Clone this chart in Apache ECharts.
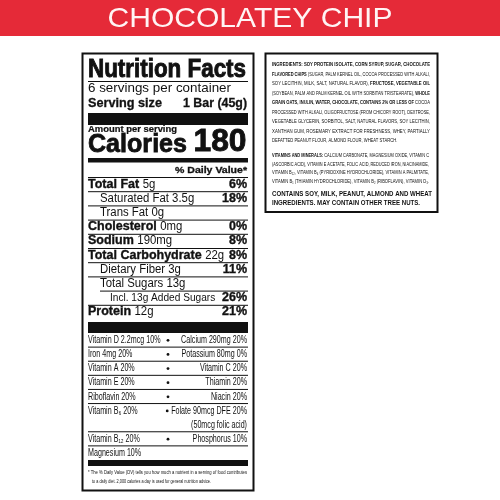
<!DOCTYPE html>
<html><head><meta charset="utf-8">
<script src="https://cdn.jsdelivr.net/npm/echarts@6/dist/echarts.min.js"></script>
<style>html,body{margin:0;padding:0;background:#fff}#c{width:500px;height:500px}</style>
</head><body><div id="c"></div>
<script>
// ---------------- DATA ----------------
const bannerTitle = 'CHOCOLATEY CHIP';
const labelTitle = 'Nutrition Facts';
const servingsText = '6 servings per container';
const servingSizeLabel = 'Serving size';
const servingSizeValue = '1 Bar (45g)';
const amountPerServing = 'Amount per serving';
const caloriesLabel = 'Calories';
const caloriesValue = 180;
const dvHeader = '% Daily Value*';
const nutrientNames = ['Total Fat','Saturated Fat','Trans Fat','Cholesterol','Sodium','Total Carbohydrate','Dietary Fiber','Total Sugars','Incl. 13g Added Sugars','Protein'];
const nutrientAmounts = ['5g','3.5g','0g','0mg','190mg','22g','3g','13g','','12g'];
const nutrientDV = ['6%','18%','','0%','8%','8%','11%','','26%','21%'];
const vitaminLeft = ['Vitamin D 2.2mcg 10%','Iron 4mg 20%','Vitamin A 20%','Vitamin E 20%','Riboflavin 20%','Vitamin B\u2086 20%','','Vitamin B\u2081\u2082 20%','Magnesium 10%'];
const vitaminRight = ['Calcium 290mg 20%','Potassium 80mg 0%','Vitamin C 20%','Thiamin 20%','Niacin 20%','Folate 90mcg DFE 20%','(50mcg folic acid)','Phosphorus 10%',''];
const footnoteLines = ['* The % Daily Value (DV) tells you how much a nutrient in a serving of food contributes','to a daily diet. 2,000 calories a day is used for general nutrition advice.'];
const ingredientLines = [
  'INGREDIENTS: SOY PROTEIN ISOLATE, CORN SYRUP, SUGAR, CHOCOLATE',
  'FLAVORED CHIPS (SUGAR, PALM KERNEL OIL, COCOA PROCESSED WITH ALKALI,',
  'SOY LECITHIN, MILK, SALT, NATURAL FLAVOR), FRUCTOSE, VEGETABLE OIL',
  '(SOYBEAN, PALM AND PALM KERNEL OIL WITH SORBITAN TRISTEARATE), WHOLE',
  'GRAIN OATS, INULIN, WATER, CHOCOLATE, CONTAINS 2% OR LESS OF COCOA',
  'PROCESSED WITH ALKALI, OLIGOFRUCTOSE (FROM CHICORY ROOT), DEXTROSE,',
  'VEGETABLE GLYCERIN, SORBITOL, SALT, NATURAL FLAVORS, SOY LECITHIN,',
  'XANTHAN GUM, ROSEMARY EXTRACT FOR FRESHNESS, WHEY, PARTIALLY',
  'DEFATTED PEANUT FLOUR, ALMOND FLOUR, WHEAT STARCH.'
];
const vitaminMineralLines = [
  'VITAMINS AND MINERALS: CALCIUM CARBONATE, MAGNESIUM OXIDE, VITAMIN C',
  '(ASCORBIC ACID), VITAMIN E ACETATE, FOLIC ACID, REDUCED IRON, NIACINAMIDE,',
  'VITAMIN B\u2081\u2082, VITAMIN B\u2086 (PYRIDOXINE HYDROCHLORIDE), VITAMIN A PALMITATE,',
  'VITAMIN B\u2081 (THIAMIN HYDROCHLORIDE), VITAMIN B\u2082 (RIBOFLAVIN), VITAMIN D\u2083.'
];
const allergenLines = ['CONTAINS SOY, MILK, PEANUT, ALMOND AND WHEAT','INGREDIENTS. MAY CONTAIN OTHER TREE NUTS.'];

// ---------------- STYLE ----------------
const boldPhrases = ['INGREDIENTS: SOY PROTEIN ISOLATE, CORN SYRUP, SUGAR, CHOCOLATE','FLAVORED CHIPS','FRUCTOSE, VEGETABLE OIL','WHOLE','GRAIN OATS, INULIN, WATER, CHOCOLATE, CONTAINS 2% OR LESS OF','VITAMINS AND MINERALS:'];
const subLevel = {'Saturated Fat':1,'Trans Fat':1,'Dietary Fiber':1,'Total Sugars':1,'Incl. 13g Added Sugars':2};
const FAMILY = '"Liberation Sans", Arial, Helvetica, sans-serif';
const INK = '#111';

const mctx = document.createElement('canvas').getContext('2d');
function fontOf(size, bold){ return (bold ? 'bold ' : 'normal ') + size + 'px ' + FAMILY; }
function measure(t, size, bold){ mctx.font = fontOf(size, bold); return mctx.measureText(t).width; }
function textEl(t, x, capY, size, o){
  o = o || {};
  const bold = !!o.bold, align = o.align || 'left';
  let sx = o.scaleX || 1;
  if (o.width) sx = o.width / measure(t, size, bold);
  const style = {text:t, font:fontOf(size, bold), fill:o.fill || INK, align:align, textAlign:align, verticalAlign:'middle', textVerticalAlign:'middle'};
  if (o.heavy) { style.stroke = o.fill || INK; style.lineWidth = o.heavy; }
  return {type:'text', x:x, y:capY + 0.03*size, scaleX:sx, scaleY:1, silent:true, style:style};
}
function splitBold(line){
  const segs = []; let rest = line;
  while (rest.length){
    let best = -1, bp = null;
    boldPhrases.forEach(p => { const k = rest.indexOf(p); if (k >= 0 && (best < 0 || k < best)) { best = k; bp = p; } });
    if (best < 0) { segs.push({t:rest, b:false}); break; }
    if (best > 0) segs.push({t:rest.slice(0, best), b:false});
    segs.push({t:bp, b:true}); rest = rest.slice(best + bp.length);
  }
  return segs;
}
function segLine(segs, x, capY, size, width, sxOverride){
  const ws = segs.map(s => measure(s.t, size, s.b));
  const total = ws.reduce((a, b) => a + b, 0);
  const sx = sxOverride || width / total;
  let cx = x; const els = [];
  segs.forEach((s, i) => { els.push(textEl(s.t, cx, capY, size, {bold:s.b, scaleX:sx})); cx += ws[i]*sx; });
  return {els, sx};
}
function paragraph(lines, x, y0, step, size, width, fullCount){
  const out = []; const scales = [];
  lines.forEach((ln, i) => {
    const segs = splitBold(ln);
    const r = segLine(segs, x, y0 + i*step, size, width, i < fullCount ? null : scales.reduce((a,b)=>a+b,0)/scales.length);
    if (i < fullCount) scales.push(r.sx);
    out.push(...r.els);
  });
  return out;
}

// ---------------- LAYOUT (graphic) ----------------
const L = 88, R = 248;
const g = [];
g.push({type:'rect', shape:{x:0, y:0, width:500, height:36}, style:{fill:'#e52a38'}, silent:true});
g.push(textEl(bannerTitle, 250, 18, 28, {align:'center', width:285, fill:'#fff4f4'}));
// nutrition box
g.push({type:'rect', shape:{x:82.5, y:53.5, width:171, height:437}, style:{fill:'none', stroke:INK, lineWidth:2}, silent:true});
g.push(textEl(labelTitle, L, 69, 25, {bold:true, width:158, heavy:0.9}));
g.push({type:'line', shape:{x1:L, y1:81.5, x2:R, y2:81.5}, style:{stroke:INK, lineWidth:1}, silent:true});
g.push(textEl(servingsText, L, 88.3, 13.5, {width:143}));
g.push(textEl(servingSizeLabel, L, 103.3, 13, {bold:true, width:74, heavy:0.3}));
g.push(textEl(servingSizeValue, R-1, 103.3, 13, {bold:true, align:'right', width:64, heavy:0.3}));
g.push({type:'rect', shape:{x:L, y:113, width:R-L, height:12}, style:{fill:INK}, silent:true});
g.push(textEl(amountPerServing, L, 129.4, 8.5, {bold:true, width:89, heavy:0.2}));
g.push(textEl(caloriesLabel, L, 143.7, 26, {bold:true, width:99, heavy:0.8}));
g.push(textEl(String(caloriesValue), R-1.5, 141.5, 32, {bold:true, align:'right', width:53, heavy:0.9}));
g.push({type:'rect', shape:{x:L, y:158, width:R-L, height:4.5}, style:{fill:INK}, silent:true});
g.push(textEl(dvHeader, R-1, 169.6, 9.5, {bold:true, align:'right', width:72, heavy:0.3}));
g.push({type:'line', shape:{x1:L, y1:177.5, x2:R, y2:177.5}, style:{stroke:INK, lineWidth:1}, silent:true});
g.push({type:'rect', shape:{x:L, y:322, width:R-L, height:11}, style:{fill:INK}, silent:true});
g.push({type:'rect', shape:{x:L, y:460, width:R-L, height:6}, style:{fill:INK}, silent:true});
g.push(textEl(footnoteLines[0], L, 472.5, 6, {width:159}));
g.push(textEl(footnoteLines[1], L+4, 481.5, 6, {width:119}));
// ingredients box
g.push({type:'rect', shape:{x:265.5, y:53.5, width:172, height:158.5}, style:{fill:'none', stroke:INK, lineWidth:2}, silent:true});
g.push(...paragraph(ingredientLines, 272, 64.5, 9.5, 6.2, 158, ingredientLines.length - 1));
g.push(...paragraph(vitaminMineralLines, 272, 155, 8.7, 6.2, 157, vitaminMineralLines.length));
(function(){
  const size = 7.6, x = 272;
  const sx = 160 / measure(allergenLines[0], size, true);
  g.push(textEl(allergenLines[0], x, 193.5, size, {bold:true, scaleX:sx}));
  g.push(textEl(allergenLines[1], x, 202.3, size, {bold:true, scaleX:sx}));
})();

// ---------------- SERIES ----------------
function renderNutrient(params, api){
  const i = params.dataIndex;
  const p0 = api.coord([0, i]), p1 = api.coord([1, i + 1]);
  const left = p0[0], right = p1[0], bottom = p1[1];
  const name = nutrientNames[i], amt = nutrientAmounts[i], dv = nutrientDV[i];
  const level = subLevel[name] || 0;
  const base = bottom - 3.5;
  const kids = [];
  const x = left + (level === 2 ? 22 : level === 1 ? 12 : 0);
  if (level === 0) {
    const size = 12.5, cy = base - 0.358*size;
    const nw = measure(name, size, true);
    kids.push(textEl(name, x, cy, size, {bold:true, heavy:0.35}));
    if (amt) kids.push(textEl(amt, x + nw + measure(' ', size, false), cy, size, {scaleX:0.91}));
  } else {
    const size = level === 2 ? 11 : 12.5, cy = base - 0.358*size;
    kids.push(textEl(amt ? name + ' ' + amt : name, x, cy, size, {scaleX: level === 2 ? 0.92 : 0.91}));
  }
  if (dv) { const size = 12.5; kids.push(textEl(dv, right - 1, base - 0.358*size, size, {bold:true, align:'right', heavy:0.35})); }
  if (i < nutrientNames.length - 1) {
    const nextLevel = subLevel[nutrientNames[i + 1]] || 0;
    const lx = nextLevel === 2 ? left + 12 : left;
    kids.push({type:'line', shape:{x1:lx, y1:bottom, x2:right, y2:bottom}, style:{stroke:INK, lineWidth:1}});
  }
  return {type:'group', children:kids};
}
function renderVitamin(params, api){
  const i = params.dataIndex;
  const p0 = api.coord([0, i]), p1 = api.coord([1, i + 1]);
  const left = p0[0], right = p1[0], bottom = p1[1];
  const size = 10.5, sx = 0.68;
  const base = bottom - 3.5, cy = base - 0.358*size;
  const kids = [];
  const lt = vitaminLeft[i], rt = vitaminRight[i];
  if (lt) kids.push(textEl(lt, left, cy, size, {scaleX:sx}));
  if (rt) kids.push(textEl(rt, right - 1, cy, size, {scaleX:sx, align:'right'}));
  if (lt && rt) {
    const rLeft = right - 1 - measure(rt, size, false)*sx;
    const bx = Math.min(left + 80, rLeft - 4);
    kids.push({type:'circle', shape:{cx:bx, cy:cy + 0.5, r:1.4}, style:{fill:INK}});
  }
  if (i < vitaminLeft.length - 1 && vitaminLeft[i + 1] !== '') {
    kids.push({type:'line', shape:{x1:left, y1:bottom, x2:right, y2:bottom}, style:{stroke:INK, lineWidth:1}});
  }
  return {type:'group', children:kids};
}

const chart = echarts.init(document.getElementById('c'), null, {renderer:'canvas'});
chart.setOption({
  animation:false,
  backgroundColor:'#ffffff',
  grid:[{left:L, top:177.5, width:R-L, height:142}, {left:L, top:333, width:R-L, height:127}],
  xAxis:[{type:'value', min:0, max:1, show:false, gridIndex:0}, {type:'value', min:0, max:1, show:false, gridIndex:1}],
  yAxis:[{type:'value', min:0, max:nutrientNames.length, inverse:true, show:false, gridIndex:0},
         {type:'value', min:0, max:vitaminLeft.length, inverse:true, show:false, gridIndex:1}],
  graphic:{elements:g},
  series:[
    {type:'custom', xAxisIndex:0, yAxisIndex:0, data:nutrientNames.map((_, i) => [0, i]), renderItem:renderNutrient, silent:true},
    {type:'custom', xAxisIndex:1, yAxisIndex:1, data:vitaminLeft.map((_, i) => [0, i]), renderItem:renderVitamin, silent:true}
  ]
});
</script></body></html>
